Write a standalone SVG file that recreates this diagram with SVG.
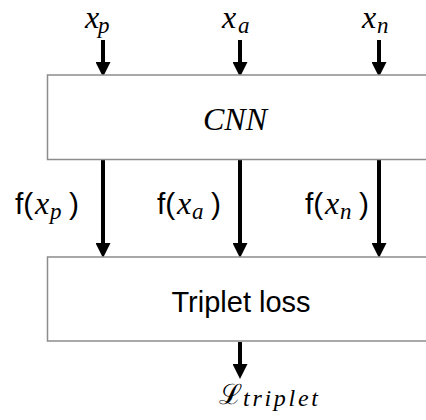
<svg xmlns="http://www.w3.org/2000/svg" width="426" height="420" viewBox="0 0 426 420">
<style>
.box{fill:#fff;stroke:#8c8c8c;stroke-width:1.5}
.arr{stroke:#000;stroke-width:4;fill:none}
.m{font-family:"Liberation Serif",serif;font-style:italic;fill:#000}
.s{font-family:"Liberation Sans",Arial,sans-serif;fill:#000}
.bx{font-size:32px}
.sb{font-size:23px}
.sp{font-size:30px}
</style>
<defs>
<marker id="ah" markerUnits="userSpaceOnUse" markerWidth="15" markerHeight="15" viewBox="0 0 14 14" refX="0" refY="7" orient="auto">
<path d="M0,0 L14,7 L0,14 z" fill="#000"/>
</marker>
</defs>
<g id="connectors">
<line class="arr" x1="103" y1="40" x2="103" y2="62" marker-end="url(#ah)"/>
<line class="arr" x1="240" y1="40" x2="240" y2="62" marker-end="url(#ah)"/>
<line class="arr" x1="379" y1="40" x2="379" y2="62" marker-end="url(#ah)"/>
<line class="arr" x1="103" y1="160" x2="103" y2="243" marker-end="url(#ah)"/>
<line class="arr" x1="240" y1="160" x2="240" y2="243" marker-end="url(#ah)"/>
<line class="arr" x1="379" y1="160" x2="379" y2="243" marker-end="url(#ah)"/>
<line class="arr" x1="240" y1="342" x2="240" y2="364" marker-end="url(#ah)"/>
</g>
<g id="inputs">
<text class="m"><tspan class="bx" x="85" y="28">x</tspan><tspan class="sb" x="98" y="33">p</tspan></text>
<text class="m"><tspan class="bx" x="222" y="28">x</tspan><tspan class="sb" x="238" y="33">a</tspan></text>
<text class="m"><tspan class="bx" x="362" y="28">x</tspan><tspan class="sb" x="377" y="33">n</tspan></text>
</g>
<g id="cnn">
<rect class="box" x="47.5" y="75" width="400" height="84.5"/>
<text class="m" x="235" y="130" font-size="32" text-anchor="middle">CNN</text>
</g>
<g id="features">
<text><tspan class="s sp" x="15" y="214">f(</tspan><tspan class="m bx" x="35" y="214">x</tspan><tspan class="m sb" x="50" y="219">p</tspan><tspan class="s sp" x="69" y="214">)</tspan></text>
<text><tspan class="s sp" x="157" y="214">f(</tspan><tspan class="m bx" x="177" y="214">x</tspan><tspan class="m sb" x="192" y="219">a</tspan><tspan class="s sp" x="211" y="214">)</tspan></text>
<text><tspan class="s sp" x="305" y="214">f(</tspan><tspan class="m bx" x="325" y="214">x</tspan><tspan class="m sb" x="340" y="219">n</tspan><tspan class="s sp" x="359" y="214">)</tspan></text>
</g>
<g id="triplet-loss">
<rect class="box" x="47.5" y="257" width="400" height="84"/>
<text class="s" x="241" y="312" font-size="29" text-anchor="middle">Triplet loss</text>
</g>
<g id="output">
<text><tspan font-family="'DejaVu Serif',serif" font-size="28" x="219" y="404">ℒ</tspan><tspan class="m" font-size="24" x="243" y="406" textLength="75" lengthAdjust="spacing">triplet</tspan></text>
</g>
</svg>
